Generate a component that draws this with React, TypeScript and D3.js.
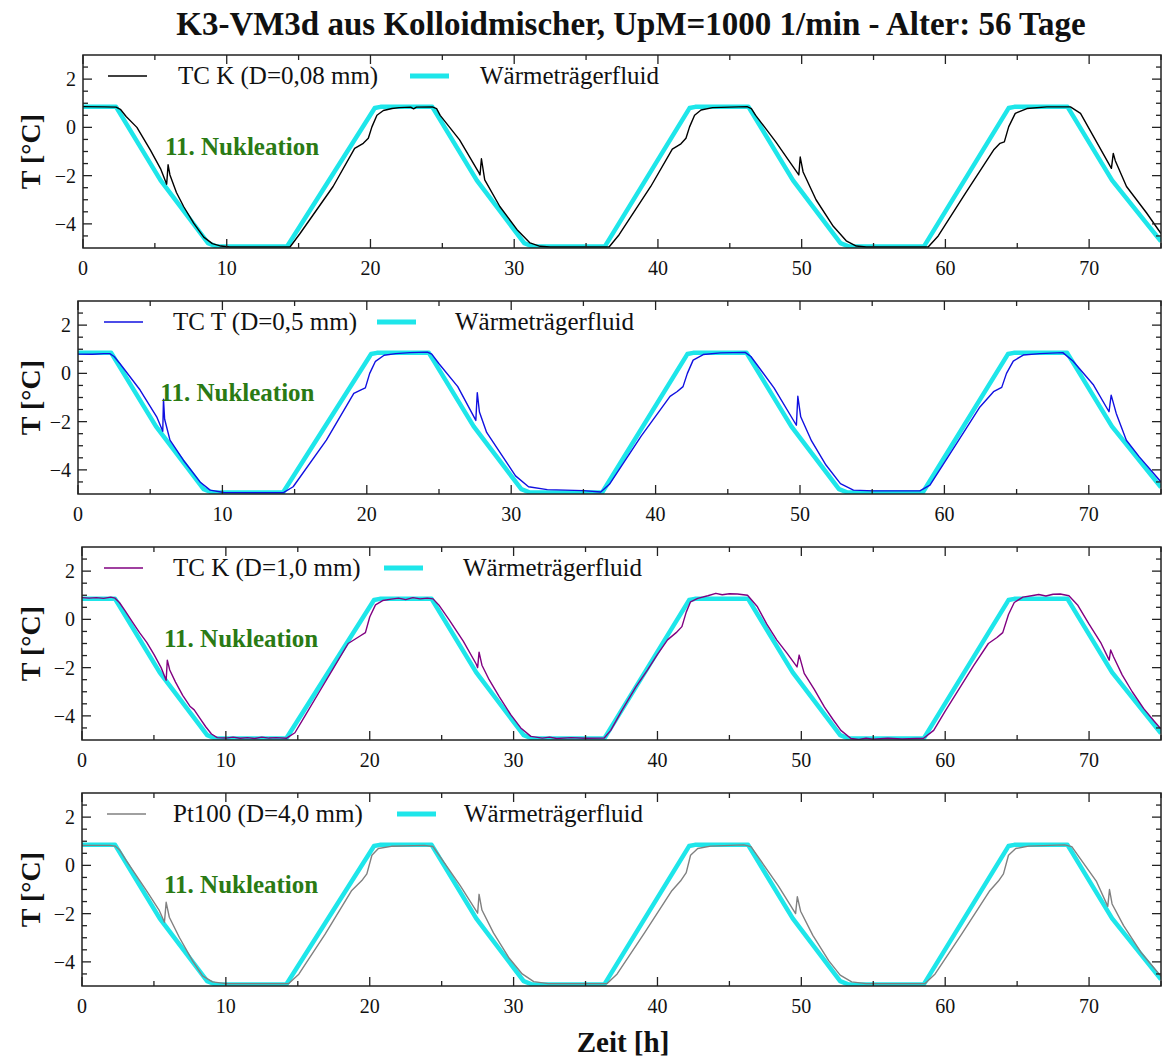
import React from 'react';
import * as d3 from 'd3';

type P = [number, number];

const titleText = 'K3-VM3d aus Kolloidmischer, UpM=1000 1/min - Alter: 56 Tage';
const xAxisLabel = 'Zeit [h]';
const yAxisLabel = 'T [°C]';
const annotationText = '11. Nukleation';
const fluidLabel = 'Wärmeträgerfluid';
const sensorLabels = ['TC K (D=0,08 mm)', 'TC T (D=0,5 mm)', 'TC K (D=1,0 mm)', 'Pt100 (D=4,0 mm)'];
const sensorColors = ['#000000', '#1010e0', '#800080', '#808080'];
const fluidColor = '#1ee6ea';

const xDomain: P = [0, 75];
const yDomain: P = [-5, 3];
const xMajorTicks = [0, 10, 20, 30, 40, 50, 60, 70];
const xMinorTicks = [5, 15, 25, 35, 45, 55, 65, 75];
const yMajorTicks = [-4, -2, 0, 2];
const yMinorTicks = [-4.5, -3.5, -3, -2.5, -1.5, -1, -0.5, 0.5, 1, 1.5, 2.5];

const fluid: P[] = [
  [0, 0.85], [2.3, 0.85], [5.4, -2.2], [8.7, -4.8], [9.3, -4.94], [14.2, -4.94],
  [20.3, 0.8], [20.7, 0.85], [24.3, 0.85], [27.4, -2.2], [30.7, -4.8], [31.3, -4.94],
  [36.3, -4.94], [42.2, 0.8], [42.6, 0.85], [46.3, 0.85], [49.4, -2.2], [52.7, -4.8],
  [53.3, -4.94], [58.5, -4.94], [64.4, 0.8], [64.8, 0.85], [68.5, 0.85], [71.6, -2.2], [75, -4.72],
];

const sensorK008: P[] = [
  [0, 0.86], [1.5, 0.85], [2.3, 0.84], [2.6, 0.75], [3.0, 0.45], [3.75, 0.0], [4.7, -0.95], [5.4, -1.72],
  [5.82, -2.36], [5.92, -1.55], [6.05, -1.97], [6.5, -2.7], [7.0, -3.28], [7.7, -3.97], [8.4, -4.55],
  [9.0, -4.82], [9.6, -4.92], [10.2, -4.96], [14.4, -4.96], [15.1, -4.4], [17.4, -2.45], [18.9, -0.87],
  [19.5, -0.66], [19.85, -0.45], [20.1, 0.02], [20.45, 0.5], [20.9, 0.7], [21.5, 0.78], [22.0, 0.82],
  [22.8, 0.84], [23.0, 0.77], [23.2, 0.84], [24.3, 0.85], [24.6, 0.78], [24.85, 0.5], [26.2, -0.52],
  [27.5, -1.83], [27.62, -1.97], [27.72, -1.3], [27.95, -2.18], [29.0, -3.28], [30.2, -4.24], [31.1, -4.79],
  [31.8, -4.93], [32.5, -4.96], [36.6, -4.96], [37.3, -4.45], [39.5, -2.45], [41.0, -0.9], [41.6, -0.68],
  [41.95, -0.45], [42.2, 0.02], [42.55, 0.5], [43.0, 0.72], [43.8, 0.82], [46.2, 0.86], [46.5, 0.78],
  [46.8, 0.5], [48.2, -0.6], [49.8, -1.97], [49.9, -1.23], [50.1, -1.85], [51.0, -3.0], [52.2, -4.1],
  [53.1, -4.7], [53.8, -4.92], [54.5, -4.96], [58.8, -4.96], [59.5, -4.5], [61.4, -2.73], [63.35, -0.94],
  [63.8, -0.66], [64.1, -0.6], [64.4, 0.02], [64.86, 0.58], [65.67, 0.78], [67.06, 0.85], [68.7, 0.85],
  [69.4, 0.58], [71.55, -1.7], [71.68, -1.08], [71.82, -1.38], [72.6, -2.45], [74.0, -3.55], [75, -4.4],
];

const sensorT05: P[] = [
  [0, 0.8], [1.0, 0.79], [1.8, 0.82], [2.2, 0.82], [2.5, 0.7], [2.9, 0.41], [4.3, -0.69], [5.45, -1.8],
  [5.87, -2.4], [5.92, -1.07], [6.0, -1.9], [6.37, -2.77], [7.3, -3.6], [8.45, -4.5], [9.15, -4.84],
  [10.1, -4.94], [14.2, -4.95], [14.9, -4.7], [17.2, -2.77], [19.1, -0.83], [19.6, -0.68], [19.9, -0.6],
  [20.2, 0.0], [20.6, 0.5], [21.2, 0.75], [22, 0.82], [23, 0.86], [24.2, 0.88], [24.5, 0.8], [25, 0.4],
  [26.3, -0.55], [27.55, -1.95], [27.65, -0.8], [27.8, -1.6], [28.3, -2.45], [29.3, -3.35], [30.3, -4.25],
  [31.2, -4.7], [32.5, -4.82], [35, -4.86], [36.2, -4.92], [36.8, -4.6], [39, -2.6], [41, -0.95],
  [41.5, -0.75], [41.9, -0.55], [42.2, 0.0], [42.6, 0.55], [43.3, 0.78], [44.5, 0.85], [46.2, 0.87],
  [46.6, 0.7], [48.2, -0.6], [49.75, -2.15], [49.85, -0.95], [50.05, -1.8], [50.8, -2.8], [51.8, -3.8],
  [52.8, -4.57], [53.7, -4.84], [55.1, -4.87], [58.3, -4.87], [59.0, -4.63], [60.85, -2.9], [62.46, -1.39],
  [63.4, -0.76], [63.97, -0.58], [64.3, 0.0], [64.77, 0.51], [65.46, 0.76], [66.6, 0.82], [68.2, 0.86],
  [68.9, 0.51], [70.3, -0.46], [71.4, -1.59], [71.55, -0.9], [71.9, -1.66], [72.6, -2.77], [73.5, -3.46],
  [75, -4.5],
];

const sensorK10: P[] = [
  [0, 0.9], [0.5, 0.88], [1, 0.9], [1.5, 0.87], [2.0, 0.92], [2.3, 0.88], [2.6, 0.7], [3.0, 0.35],
  [3.5, -0.1], [4.0, -0.55], [4.5, -0.95], [5.0, -1.45], [5.5, -2.0], [5.85, -2.52], [5.93, -1.69],
  [6.1, -2.1], [6.5, -2.6], [7.0, -3.15], [7.5, -3.6], [7.8, -3.75], [8.2, -4.1], [8.6, -4.45], [9.0, -4.75],
  [9.4, -4.9], [10, -4.92], [10.5, -4.88], [11, -4.93], [11.5, -4.9], [12, -4.94], [12.5, -4.88], [13, -4.92],
  [13.5, -4.9], [14.2, -4.93], [14.8, -4.7], [15.5, -4.0], [16.5, -3.0], [17.5, -2.0], [18.5, -1.0],
  [19.3, -0.7], [19.7, -0.55], [20.0, 0.1], [20.4, 0.6], [20.9, 0.78], [21.5, 0.84], [22, 0.88], [22.5, 0.82],
  [23, 0.9], [23.5, 0.85], [24, 0.88], [24.4, 0.85], [24.8, 0.6], [25.5, 0.0], [26.5, -0.9], [27.4, -1.85],
  [27.5, -2.0], [27.6, -1.36], [27.8, -1.9], [28.3, -2.5], [29, -3.2], [29.8, -3.95], [30.5, -4.5],
  [31.2, -4.85], [32, -4.92], [32.5, -4.88], [33, -4.94], [34, -4.9], [35, -4.93], [36.3, -4.92],
  [36.75, -4.6], [37.5, -3.8], [38.5, -2.8], [39.3, -2.1], [40, -1.45], [40.7, -0.85], [41.3, -0.55],
  [41.7, -0.3], [42.0, 0.3], [42.3, 0.73], [42.8, 0.87], [43.5, 0.98], [44.06, 1.08], [44.5, 1.02],
  [45, 1.06], [45.56, 1.05], [46.26, 1.0], [46.95, 0.52], [47.6, -0.2], [48.3, -0.86], [49.0, -1.4],
  [49.7, -1.97], [49.85, -1.48], [50.2, -2.24], [50.9, -2.9], [51.6, -3.63], [52.2, -4.15], [52.75, -4.6],
  [53.45, -4.94], [54, -4.98], [54.5, -4.92], [55, -4.97], [56, -4.93], [57, -4.96], [58.5, -4.93],
  [59.2, -4.6], [60, -3.8], [61, -2.85], [62, -1.9], [63, -1.0], [63.6, -0.75], [64.0, -0.55], [64.4, 0.2],
  [64.8, 0.7], [65.4, 0.92], [66, 0.98], [66.5, 1.03], [67, 0.97], [67.5, 1.04], [68, 1.05], [68.6, 0.98],
  [69.2, 0.6], [70, -0.2], [70.8, -0.95], [71.4, -1.69], [71.5, -1.27], [71.7, -1.55], [72.3, -2.3],
  [73, -3.0], [73.8, -3.7], [74.5, -4.2], [75, -4.55],
];

const sensorPt100: P[] = [
  [0, 0.83], [1.94, 0.83], [2.3, 0.8], [2.6, 0.65], [3.08, 0.2], [4.47, -1.04], [5.38, -1.88], [5.73, -2.36],
  [5.85, -1.53], [6.07, -2.15], [6.77, -2.99], [7.69, -3.96], [8.38, -4.58], [9.07, -4.83], [10.0, -4.9],
  [14.37, -4.9], [15.07, -4.51], [16.9, -2.85], [18.75, -1.04], [19.45, -0.63], [19.8, -0.35], [20.15, 0.42],
  [20.6, 0.7], [21.5, 0.79], [23.8, 0.83], [24.4, 0.78], [24.9, 0.35], [26.3, -0.85], [27.5, -1.98],
  [27.6, -1.2], [27.8, -1.85], [28.6, -2.8], [29.7, -3.85], [30.6, -4.5], [31.4, -4.82], [32.4, -4.9],
  [36.5, -4.9], [37.2, -4.5], [39.1, -2.8], [41.0, -1.05], [41.6, -0.65], [42.0, -0.3], [42.3, 0.42],
  [42.8, 0.7], [43.7, 0.8], [46.0, 0.85], [46.5, 0.78], [47.0, 0.35], [48.4, -0.85], [49.6, -2.0],
  [49.72, -1.3], [49.95, -1.9], [50.8, -2.9], [51.9, -3.95], [52.7, -4.55], [53.5, -4.83], [54.5, -4.9],
  [58.6, -4.9], [59.3, -4.5], [61.2, -2.8], [63.1, -1.05], [63.7, -0.65], [64.05, -0.35], [64.4, 0.42],
  [64.9, 0.7], [65.8, 0.8], [68.3, 0.85], [68.8, 0.78], [69.3, 0.35], [70.5, -0.65], [71.3, -1.7],
  [71.42, -1.0], [71.6, -1.6], [72.4, -2.5], [73.6, -3.6], [75, -4.6],
];

const sensors = [sensorK008, sensorT05, sensorK10, sensorPt100];

// layout (pixels)
const W = 1162;
const H = 1059;
const panelTops = [55, 301, 547, 793];
const panelLefts = [83, 78, 82, 82];
const panelRight = 1161;
const panelH = 193;
const legendLayout = [
  { l1: 108, t1: 178, l2: 410, t2: 480 },
  { l1: 104, t1: 173, l2: 377, t2: 455 },
  { l1: 104, t1: 173, l2: 384, t2: 463 },
  { l1: 107, t1: 173, l2: 397, t2: 464 },
];
const serif = '"Liberation Serif", "Times New Roman", serif';

function Panel({ idx }: { idx: number }) {
  const top = panelTops[idx];
  const left = panelLefts[idx];
  const bottom = top + panelH;
  const x = d3.scaleLinear().domain(xDomain).range([left, panelRight]);
  const y = d3.scaleLinear().domain(yDomain).range([bottom, top]);
  const line = d3.line<P>().x((d) => x(d[0])).y((d) => y(d[1]));
  const clipId = `clip${idx}`;
  const lg = legendLayout[idx];
  const legY = top + 21;
  const maj = 9;
  const mnr = 5;
  return (
    <g>
      <defs>
        <clipPath id={clipId}>
          <rect x={left} y={top} width={panelRight - left} height={panelH} />
        </clipPath>
      </defs>
      <g clipPath={`url(#${clipId})`}>
        <path d={line(fluid) || ''} fill="none" stroke={fluidColor} strokeWidth={4.5} strokeLinejoin="round" />
        <path d={line(sensors[idx]) || ''} fill="none" stroke={sensorColors[idx]} strokeWidth={1.4} strokeLinejoin="round" />
      </g>
      <g stroke="#222" strokeWidth={1.3}>
        {xMajorTicks.map((t) => (
          <g key={'xm' + t}>
            <line x1={x(t)} x2={x(t)} y1={bottom} y2={bottom - maj} />
            <line x1={x(t)} x2={x(t)} y1={top} y2={top + maj} />
          </g>
        ))}
        {xMinorTicks.map((t) => (
          <g key={'xn' + t}>
            <line x1={x(t)} x2={x(t)} y1={bottom} y2={bottom - mnr} />
            <line x1={x(t)} x2={x(t)} y1={top} y2={top + mnr} />
          </g>
        ))}
        {yMajorTicks.map((t) => (
          <g key={'ym' + t}>
            <line x1={left} x2={left + maj} y1={y(t)} y2={y(t)} />
            <line x1={panelRight} x2={panelRight - maj} y1={y(t)} y2={y(t)} />
          </g>
        ))}
        {yMinorTicks.map((t) => (
          <g key={'yn' + t}>
            <line x1={left} x2={left + mnr} y1={y(t)} y2={y(t)} />
            <line x1={panelRight} x2={panelRight - mnr} y1={y(t)} y2={y(t)} />
          </g>
        ))}
      </g>
      <rect x={left} y={top} width={panelRight - left} height={panelH} fill="none" stroke="#222" strokeWidth={1.5} />
      <g fontFamily={serif} fontSize={20} fill="#111">
        {xMajorTicks.map((t) => (
          <text key={'xl' + t} x={x(t)} y={bottom + 27} textAnchor="middle">
            {String(t)}
          </text>
        ))}
        {yMajorTicks.map((t) => (
          <text key={'yl' + t} x={left - 7} y={y(t) + 7} textAnchor="end">
            {t < 0 ? '\u2212' + Math.abs(t) : String(t)}
          </text>
        ))}
      </g>
      <text
        transform={`translate(${30},${(top + bottom) / 2}) rotate(-90)`}
        textAnchor="middle"
        dominantBaseline="central"
        fontFamily={serif}
        fontWeight="bold"
        fontSize={28}
        fill="#111"
      >
        {yAxisLabel}
      </text>
      <line x1={lg.l1} x2={lg.l1 + 39} y1={legY} y2={legY} stroke={sensorColors[idx]} strokeWidth={1.6} />
      <text x={lg.t1} y={legY + 8} fontFamily={serif} fontSize={25} fill="#111">
        {sensorLabels[idx]}
      </text>
      <line x1={lg.l2} x2={lg.l2 + 39} y1={legY} y2={legY} stroke={fluidColor} strokeWidth={5} />
      <text x={lg.t2} y={legY + 8} fontFamily={serif} fontSize={25} fill="#111">
        {fluidLabel}
      </text>
      <text x={x(5.7)} y={y(-0.8) + 8} fontFamily={serif} fontWeight="bold" fontSize={25} fill="#2a7a14">
        {annotationText}
      </text>
    </g>
  );
}

export default function App() {
  return (
    <svg
      width={W}
      height={H}
      viewBox={`0 0 ${W} ${H}`}
      style={{ position: 'absolute', left: 0, top: 0, background: '#fff' }}
    >
      <rect x={0} y={0} width={W} height={H} fill="#fff" />
      <text x={631} y={35} textAnchor="middle" fontFamily={serif} fontWeight="bold" fontSize={33} fill="#111">
        {titleText}
      </text>
      {[0, 1, 2, 3].map((i) => (
        <Panel key={i} idx={i} />
      ))}
      <text x={623} y={1052} textAnchor="middle" fontFamily={serif} fontWeight="bold" fontSize={29} fill="#111">
        {xAxisLabel}
      </text>
    </svg>
  );
}
